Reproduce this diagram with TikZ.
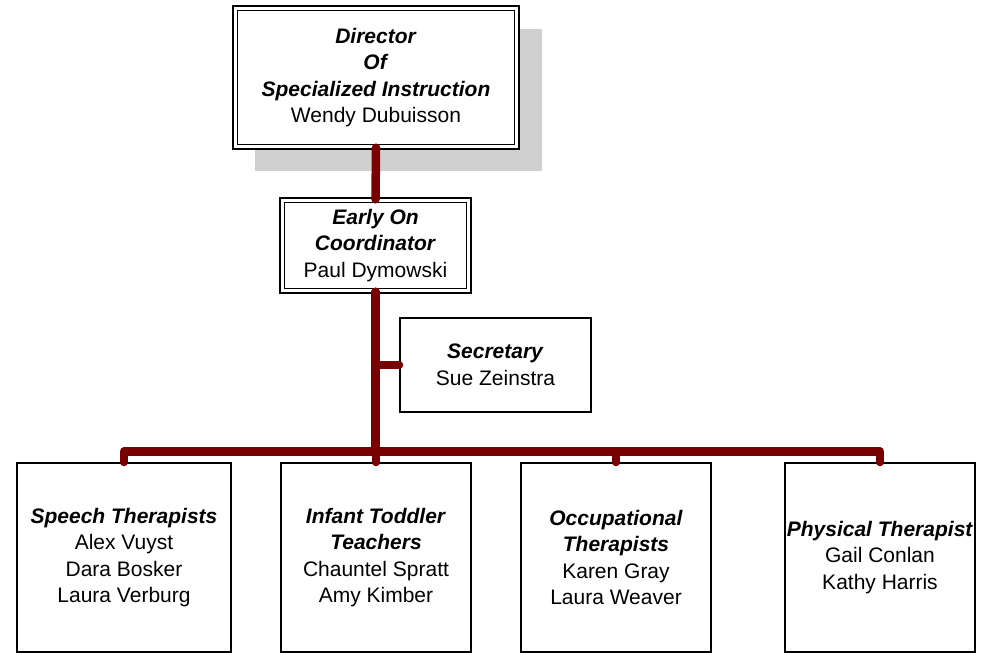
\documentclass[tikz,border=0pt]{standalone}
\usepackage{fontspec}
\setmainfont{Liberation Sans}
\usetikzlibrary{calc,backgrounds}
\definecolor{connred}{RGB}{122,0,0}
\definecolor{shadowgray}{RGB}{208,208,208}
\tikzset{
  box/.style={draw=black, fill=white, line width=2pt, inner sep=0pt, align=center,
    font=\fontsize{21}{26.5}\selectfont},
  dblbox/.style={box, line width=1.6pt, double=white, double distance=3pt},
  conn/.style={draw=connred, line width=8.5pt, line cap=round, line join=round},
}
\newcommand{\ttl}[1]{\textbf{\textit{#1}}}
\begin{document}
\begin{tikzpicture}[x=1pt,y=-1pt]
\useasboundingbox (0,0) rectangle (981,654);

\node[dblbox, minimum width=281.8pt, minimum height=138.8pt] (dir) at (376,77.5)
  {\ttl{Director}\\\ttl{Of}\\\ttl{Specialized Instruction}\\Wendy Dubuisson};
\begin{scope}[on background layer]
  \fill[white] (0,0) rectangle (981,654);
  \fill[shadowgray] ($(dir.north west)+(21,22)$) rectangle ($(dir.south east)+(24,23)$);
\end{scope}

\node[dblbox, minimum width=186.8pt, minimum height=90.8pt] (early) at (375.5,245.5)
  {\ttl{Early On}\\\ttl{Coordinator}\\Paul Dymowski};

\node[box, minimum width=191pt, minimum height=94pt] (sec) at (495.5,365)
  {\ttl{Secretary}\\Sue Zeinstra};

\node[box, minimum width=214pt, minimum height=189pt] (speech) at (124,557.5)
  {\ttl{Speech Therapists}\\Alex Vuyst\\Dara Bosker\\Laura Verburg};
\node[box, minimum width=190pt, minimum height=189pt] (infant) at (376,557.5)
  {\ttl{Infant Toddler}\\\ttl{Teachers}\\Chauntel Spratt\\Amy Kimber};
\node[box, minimum width=190pt, minimum height=189pt] (occ) at (616,557.5)
  {\ttl{Occupational}\\\ttl{Therapists}\\Karen Gray\\Laura Weaver};
\node[box, minimum width=190pt, minimum height=189pt] (phys) at (880,557.5)
  {\ttl{Physical Therapist}\\Gail Conlan\\Kathy Harris};

\coordinate (bus) at (0,451.5);

\draw[conn] (dir.south) -- (early.north);
\draw[conn] (early.south) -- (early.south |- bus);
\draw[conn] (sec.west) -- (sec.west -| early.south);
\draw[conn] (speech.north) -- (speech.north |- bus) -- (phys.north |- bus) -- (phys.north);
\draw[conn] (infant.north) -- (infant.north |- bus);
\draw[conn] (occ.north) -- (occ.north |- bus);
\end{tikzpicture}
\end{document}
